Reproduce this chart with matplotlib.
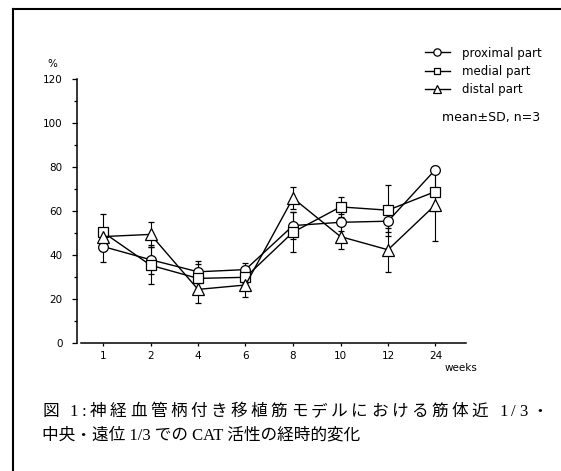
import matplotlib.pyplot as plt
from matplotlib.lines import Line2D
from matplotlib.ticker import MultipleLocator

# データ
weeks = ['1', '2', '4', '6', '8', '10', '12', '24']
proximal_mean = [44, 38, 32.5, 33.5, 53.5, 55, 55.5, 79]
proximal_sd = [7, 6.5, 5, 3, 6, 4, 5, 1.5]
medial_mean = [50.5, 35.5, 29.5, 30, 50.5, 62, 60.5, 69]
medial_sd = [8.5, 8.5, 6.5, 2.5, 9, 4.5, 11.5, 9]
distal_mean = [48.5, 49.5, 24.5, 26.5, 66, 48.5, 42.5, 63]
distal_sd = [1.5, 5.5, 6, 5.5, 5, 5.5, 10, 16.5]

caption1 = '図 1:神経血管柄付き移植筋モデルにおける筋体近 1/3・'
caption2 = '中央・遠位 1/3 での CAT 活性の経時的変化'

W, H = 561, 471
fig = plt.figure(figsize=(W / 100, H / 100), dpi=100)

# 軸の位置 (ピクセルから)
ax = fig.add_axes([77 / W, 1 - 343.3 / H, (466 - 77) / W, (343.3 - 79.3) / H])

x = list(range(len(weeks)))
series = [
    (proximal_mean, proximal_sd, 'o', 7, 'proximal part'),
    (medial_mean, medial_sd, 's', 6.5, 'medial part'),
    (distal_mean, distal_sd, '^', 8, 'distal part'),
]
for mean, sd, mk, ms, lab in series:
    ax.errorbar(x, mean, yerr=sd, color='k', lw=1.0, elinewidth=0.8,
                capsize=2.5, capthick=0.8, marker=mk, ms=ms,
                mfc='white', mec='k', mew=0.9, clip_on=False)

ax.set_xlim((77 - 103) / 47.5, (466 - 103) / 47.5)
ax.set_ylim(0, 120)
ax.set_xticks(x)
ax.set_xticklabels(weeks)
ax.yaxis.set_major_locator(MultipleLocator(20))
ax.yaxis.set_minor_locator(MultipleLocator(10))

for s in ['top', 'right']:
    ax.spines[s].set_visible(False)
ax.spines['left'].set_linewidth(1.1)
ax.spines['bottom'].set_linewidth(1.1)
ax.spines['bottom'].set_bounds((80.5 - 103) / 47.5, (466 - 103) / 47.5)

ax.tick_params(axis='y', which='major', length=3.3, width=0.9, pad=7, labelsize=7.5)
ax.tick_params(axis='y', which='minor', length=2, width=0.9)
ax.tick_params(axis='x', length=2.5, width=0.9, pad=3.4, labelsize=7.5)

fig.text(52.7 / W, 1 - 64 / H, '%', ha='center', va='center', fontsize=7.5)
fig.text(461 / W, 1 - 368 / H, 'weeks', ha='center', va='center', fontsize=7.5)

# 凡例
handles = [Line2D([], [], color='k', lw=1.0, marker=mk, ms=ms * 0.75,
                  mfc='white', mec='k', mew=0.9)
           for _, _, mk, ms, _ in series]
labels = [lab for *_, lab in series]
fig.legend(handles, labels, loc='upper left',
           bbox_to_anchor=(425 / W, 1 - 46.5 / H), frameon=False,
           fontsize=8.5, handlelength=2.1, handletextpad=1.0,
           labelspacing=0.45, borderpad=0, borderaxespad=0)
fig.text(442 / W, 1 - 118 / H, 'mean±SD, n=3', ha='left', va='center', fontsize=9)

# キャプション
cap_font = ['Liberation Serif', 'Noto Sans CJK JP']
cap_size = 12
renderer = fig.canvas.get_renderer()


def text_width(s):
    t = fig.text(0, 0, s, fontsize=cap_size, family=cap_font)
    w = t.get_window_extent(renderer).width
    t.remove()
    return w


# 1行目は両端揃え (文字ごとに間隔を広げる)
x0, x1 = 42, 548
ref_w = text_width('図')
adv = [text_width(caption1[:i] + '図') - ref_w for i in range(len(caption1))]
adv[0] = 0
extra = (x1 - x0 - text_width(caption1)) / (len(caption1) - 1)
for i, ch in enumerate(caption1):
    if ch == ' ':
        continue
    fig.text((x0 + adv[i] + i * extra) / W, 1 - 412 / H, ch, ha='left', va='center',
             fontsize=cap_size, family=cap_font)
fig.text(x0 / W, 1 - 435 / H, caption2, ha='left', va='center',
         fontsize=cap_size, family=cap_font)

# 枠線 (左と上)
fig.add_artist(Line2D([12.7 / W, 12.7 / W], [0, 1 - 8.7 / H], transform=fig.transFigure,
                      color='k', lw=1.5))
fig.add_artist(Line2D([12.7 / W, 1], [1 - 8.7 / H, 1 - 8.7 / H], transform=fig.transFigure,
                      color='k', lw=1.5))

fig.savefig('out.png', dpi=100)
